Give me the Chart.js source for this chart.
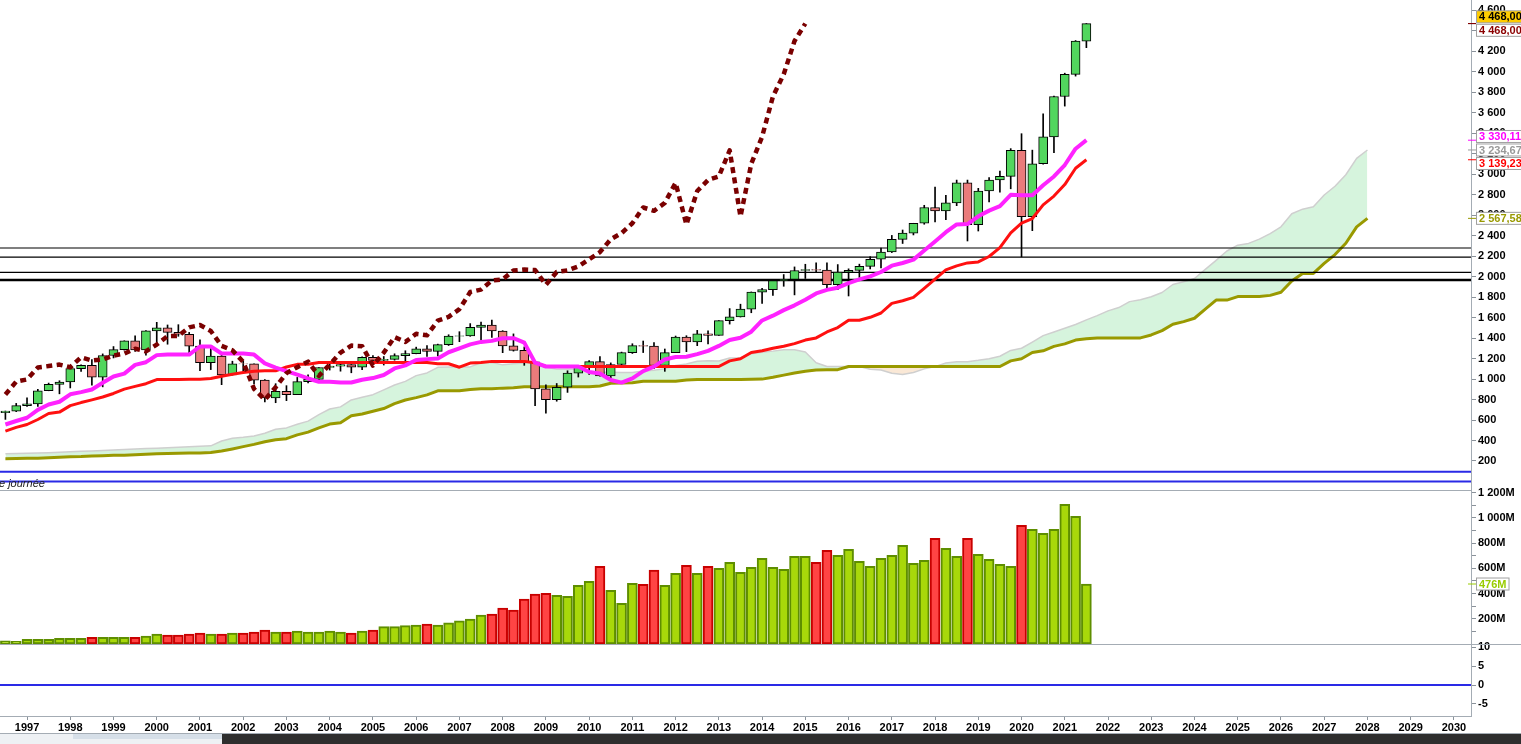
<!doctype html>
<html lang="fr">
<head>
<meta charset="utf-8">
<title>S&amp;P 500 trimestriel - Ichimoku</title>
<script src="https://cdn.jsdelivr.net/npm/chart.js@4.4.1/dist/chart.umd.min.js"></script>
<style>
  body { margin: 0; background: #fff; overflow: hidden; }
  #wrap { position: relative; width: 1521px; height: 744px; }
  canvas { position: absolute; left: 0; }
  .sep { position: absolute; left: 0; height: 1px; background: #a4acb4; }
  #note { position: absolute; left: -1px; top: 477px; font: italic 11px Arial, "Liberation Sans", sans-serif; color: #222; }
</style>
</head>
<body>
<div id="wrap">
  <canvas id="c1" width="1521" height="490" style="top:0"></canvas>
  <canvas id="c2" width="1521" height="162" style="top:482px"></canvas>
  <canvas id="c3" width="1521" height="97" style="top:636px"></canvas>
  <div class="sep" style="top:490px;width:1471px"></div>
  <div class="sep" style="top:644px;width:1521px"></div>
  <div class="sep" style="top:733px;width:1521px"></div>
  <div style="position:absolute;left:0;top:734px;width:222px;height:10px;background:#eef1f4"></div>
  <div style="position:absolute;left:73px;top:734px;width:149px;height:5px;background:#d6dfe8"></div>
  <div style="position:absolute;left:222px;top:734px;width:1299px;height:10px;background:#2e2e2e"></div>
  <div id="note">e journée</div>
</div>
<script>
// quarterly candles, 1996 Q3 .. 2021 Q3 (index 0 .. 100)
const opens = [
  670.6, 687.3, 740.7, 757.1, 885.1, 947.3, 970.4, 1101.8, 1133.8, 1017.0,
  1229.2, 1286.4, 1372.7, 1282.7, 1469.3, 1498.6, 1454.6, 1436.5, 1320.3, 1160.3,
  1224.4, 1040.9, 1148.1, 1147.4, 989.8, 815.3, 879.8, 848.2, 974.5, 996.0,
  1111.9, 1126.2, 1140.8, 1114.6, 1211.9, 1180.6, 1191.3, 1228.8, 1248.3, 1294.8,
  1270.2, 1335.9, 1418.3, 1420.9, 1503.4, 1526.8, 1468.4, 1322.7, 1280.0, 1166.4,
  903.3, 797.9, 919.3, 1057.1, 1115.1, 1169.4, 1030.7, 1141.2, 1257.6, 1325.8,
  1320.6, 1131.4, 1257.6, 1408.5, 1362.2, 1440.7, 1426.2, 1569.2, 1606.3, 1681.6,
  1848.4, 1872.3, 1960.2, 1972.3, 2058.9, 2067.9, 2063.1, 1920.0, 2043.9, 2059.7,
  2098.9, 2168.3, 2238.8, 2362.7, 2423.4, 2519.4, 2673.6, 2640.9, 2718.4, 2914.0,
  2506.9, 2834.4, 2941.8, 2976.7, 3230.8, 2584.6, 3100.3, 3363.0, 3756.1, 3972.9,
  4297.5
];
const highs = [
  687.5, 762.1, 817.0, 898.7, 960.3, 983.1, 1105.7, 1138.5, 1190.6, 1244.9,
  1316.6, 1372.9, 1420.3, 1473.0, 1553.1, 1527.2, 1530.1, 1454.8, 1383.4, 1316.3,
  1240.4, 1173.6, 1176.8, 1147.8, 994.5, 954.3, 935.1, 1015.3, 1040.0, 1112.6,
  1163.2, 1150.6, 1140.8, 1217.3, 1229.1, 1219.6, 1246.0, 1275.8, 1310.9, 1326.7,
  1340.3, 1431.8, 1461.6, 1540.6, 1555.9, 1576.1, 1471.8, 1440.2, 1313.2, 1167.0,
  943.9, 956.2, 1080.2, 1130.4, 1180.7, 1219.8, 1157.2, 1262.6, 1344.1, 1370.6,
  1356.5, 1292.7, 1419.2, 1422.4, 1474.5, 1470.9, 1570.3, 1687.2, 1729.9, 1849.4,
  1883.9, 1968.2, 2019.3, 2093.6, 2119.6, 2134.7, 2132.8, 2116.5, 2075.0, 2120.6,
  2193.8, 2277.5, 2401.0, 2453.8, 2519.4, 2695.0, 2872.9, 2791.5, 2940.9, 2941.0,
  2860.3, 2964.2, 3028.0, 3247.9, 3393.5, 3233.1, 3588.1, 3760.2, 3983.9, 4302.4,
  4468.0
];
const lows = [
  605.9, 681.6, 733.5, 733.5, 885.1, 855.3, 912.8, 1074.6, 939.9, 923.3,
  1205.5, 1281.4, 1268.4, 1233.7, 1325.1, 1339.4, 1416.8, 1254.1, 1081.2, 1091.9,
  944.8, 1037.9, 1074.4, 952.9, 775.7, 768.6, 788.9, 847.9, 960.8, 990.4,
  1087.2, 1076.3, 1060.7, 1090.2, 1163.7, 1136.2, 1183.6, 1168.2, 1245.7, 1219.3,
  1224.5, 1327.1, 1363.9, 1416.4, 1370.6, 1406.1, 1256.9, 1272.0, 1133.5, 741.0,
  666.8, 783.3, 869.3, 1019.0, 1044.5, 1028.3, 1010.9, 1131.9, 1249.1, 1258.1,
  1101.5, 1074.8, 1257.6, 1267.0, 1325.4, 1343.4, 1426.2, 1536.0, 1604.6, 1646.5,
  1737.9, 1814.4, 1904.8, 1820.7, 1980.9, 2048.4, 1867.0, 1871.9, 1810.1, 1991.7,
  2074.0, 2083.8, 2233.6, 2322.3, 2405.7, 2510.0, 2532.7, 2553.8, 2691.0, 2346.6,
  2444.0, 2728.8, 2822.1, 2855.9, 2191.9, 2447.5, 3095.0, 3209.5, 3662.7, 3955.5,
  4233.1
];
const closes = [
  687.3, 740.7, 757.1, 885.1, 947.3, 970.4, 1101.8, 1133.8, 1017.0, 1229.2,
  1286.4, 1372.7, 1282.7, 1469.3, 1498.6, 1454.6, 1436.5, 1320.3, 1160.3, 1224.4,
  1040.9, 1148.1, 1147.4, 989.8, 815.3, 879.8, 848.2, 974.5, 996.0, 1111.9,
  1126.2, 1140.8, 1114.6, 1211.9, 1180.6, 1191.3, 1228.8, 1248.3, 1294.8, 1270.2,
  1335.9, 1418.3, 1420.9, 1503.4, 1526.8, 1468.4, 1322.7, 1280.0, 1166.4, 903.3,
  797.9, 919.3, 1057.1, 1115.1, 1169.4, 1030.7, 1141.2, 1257.6, 1325.8, 1320.6,
  1131.4, 1257.6, 1408.5, 1362.2, 1440.7, 1426.2, 1569.2, 1606.3, 1681.6, 1848.4,
  1872.3, 1960.2, 1972.3, 2058.9, 2067.9, 2063.1, 1920.0, 2043.9, 2059.7, 2098.9,
  2168.3, 2238.8, 2362.7, 2423.4, 2519.4, 2673.6, 2640.9, 2718.4, 2914.0, 2506.9,
  2834.4, 2941.8, 2976.7, 3230.8, 2584.6, 3100.3, 3363.0, 3756.1, 3972.9, 4297.5,
  4468.0
];
// volume in millions
const volumes = [
  26, 21, 37, 37, 37, 45, 45, 45, 53, 53,
  53, 53, 53, 63, 79, 71, 71, 79, 87, 79,
  79, 87, 87, 95, 111, 95, 95, 103, 95, 95,
  103, 95, 87, 103, 111, 138, 138, 146, 151, 159,
  151, 167, 183, 198, 230, 238, 286, 270, 357, 397,
  402, 386, 378, 466, 497, 617, 426, 323, 482, 474,
  587, 466, 561, 624, 561, 617, 601, 648, 569, 609,
  680, 609, 593, 696, 696, 648, 744, 704, 751, 656,
  617, 680, 704, 783, 640, 664, 839, 759, 696, 839,
  712, 672, 632, 617, 942, 910, 878, 910, 1109, 1013,
  476
];
// Ichimoku lines
const tenkan = [
  556, 590, 622, 699, 751, 778, 851, 872, 898, 963,
  1025, 1053, 1138, 1164, 1233, 1238, 1238, 1238, 1317, 1317,
  1249, 1249, 1249, 1238, 1153, 1112, 1076, 1043, 1005, 973,
  973, 966, 966, 993, 1009, 1039, 1103, 1133, 1186, 1194,
  1201, 1261, 1299, 1338, 1362, 1372, 1398, 1398, 1355, 1159,
  1122, 1122, 1122, 1122, 1069, 1054, 990, 965, 1006, 1077,
  1120, 1191, 1215, 1217, 1243, 1275, 1323, 1381, 1402, 1462,
  1571, 1618, 1672, 1719, 1773, 1835, 1870, 1891, 1936, 1972,
  2002, 2044, 2106, 2132, 2165, 2253, 2342, 2432, 2508, 2512,
  2587, 2643, 2687, 2797, 2793, 2793, 2890, 2976, 3088, 3247,
  3330.11
];
const kijun = [
  491, 528, 556, 605, 663, 677, 740, 770, 796, 824,
  859, 901, 928, 954, 994, 994, 994, 997, 998, 1005,
  1027, 1047, 1063, 1075, 1080, 1080, 1117, 1143, 1143, 1161,
  1161, 1161, 1161, 1161, 1161, 1161, 1161, 1161, 1161, 1161,
  1149, 1149, 1115, 1155, 1162, 1172, 1172, 1172, 1172, 1159,
  1122, 1122, 1122, 1122, 1122, 1122, 1122, 1122, 1122, 1122,
  1122, 1122, 1122, 1122, 1122, 1122, 1122, 1177, 1198, 1258,
  1275, 1300, 1320, 1345, 1380, 1401, 1459, 1502, 1573, 1573,
  1602, 1644, 1738, 1764, 1797, 1885, 1974, 2065, 2104, 2133,
  2142, 2195, 2282, 2426, 2520, 2566, 2699, 2785, 2897, 3056,
  3139.23
];
// cloud edges, index 0 .. 126 (26 quarters ahead)
const spanA = [
  270, 273, 276, 278, 281, 285, 290, 294, 298, 303,
  308, 312, 317, 321, 325, 329, 333, 338, 343, 348,
  395, 421, 431, 444, 470, 509,
  523, 559, 589, 652, 707, 728, 796, 821, 847, 894,
  942, 977, 1033, 1059, 1114, 1116, 1116, 1118, 1158, 1161,
  1138, 1148, 1156, 1157, 1117, 1096, 1097, 1093, 1074, 1067,
  1067, 1064, 1064, 1077, 1085, 1100, 1132, 1147, 1174, 1178,
  1175, 1205, 1207, 1247, 1262, 1272, 1285, 1285, 1264, 1159,
  1122, 1122, 1122, 1122, 1095, 1088, 1056, 1043, 1064, 1099,
  1121, 1156, 1168, 1169, 1182, 1198, 1222, 1279, 1300, 1360,
  1423, 1459, 1496, 1532, 1577, 1618, 1665, 1697, 1755, 1773,
  1802, 1844, 1922, 1948, 1981, 2069, 2158, 2249, 2306, 2323,
  2365, 2419, 2485, 2612, 2657, 2680, 2795, 2881, 2993, 3152,
  3234.67
];
const spanB = [
  223, 224, 226, 228, 231, 236, 242, 244, 249, 252,
  255, 256, 262, 265, 270, 272, 276, 277, 279, 283,
  298, 318, 340, 362, 388, 408,
  418, 455, 482, 523, 560, 573, 642, 659, 685, 712,
  760, 795, 818, 845, 885, 885, 885, 898, 905, 905,
  911, 914, 924, 924, 924, 924, 924, 924, 924, 932,
  959, 962, 964, 977, 977, 978, 978, 991, 994, 995,
  994, 994, 994, 997, 999, 1017, 1038, 1059, 1075, 1087,
  1091, 1091, 1122, 1122, 1122, 1122, 1122, 1122, 1122, 1122,
  1122, 1122, 1122, 1122, 1122, 1122, 1122, 1177, 1198, 1258,
  1275, 1318, 1343, 1380, 1393, 1401, 1401, 1401, 1401, 1401,
  1430, 1472, 1534, 1560, 1593, 1681, 1770, 1770, 1804, 1804,
  1804, 1816, 1847, 1957, 2030, 2030, 2128, 2214, 2325, 2485,
  2567.58
];
const levels = [2278, 2190, 2041, 1966];
const blueLevels = [95, 0];
const oscLevels = [0];
const chikouShift = 26;
const yearLabels = ['1997','1998','1999','2000','2001','2002','2003','2004','2005','2006',
  '2007','2008','2009','2010','2011','2012','2013','2014','2015','2016','2017','2018',
  '2019','2020','2021','2022','2023','2024','2025','2026','2027','2028','2029','2030'];
const priceTicks = [200,400,600,800,1000,1200,1400,1600,1800,2000,2200,2400,2600,2800,
  3000,3200,3400,3600,3800,4000,4200,4400,4600];
const volumeTicks = [100,200,300,400,500,600,700,800,900,1000,1100,1200];
const oscTicks = [-5, 0, 5, 10];

const xMin = -0.5, xMax = 135.58;
Chart.defaults.font.family = 'Arial, "Liberation Sans", sans-serif';

function fmtInt(v) { return String(Math.round(v)).replace(/\B(?=(\d{3})+(?!\d))/g, ' '); }
function fmt2(v) { const p = v.toFixed(2).split('.'); return fmtInt(+p[0]) + ',' + p[1]; }
const pts = arr => arr.map((v, i) => ({ x: i, y: v }));
const hline = v => [{ x: xMin, y: v }, { x: xMax, y: v }];

function rightAxis(min, max, tickVals, label) {
  return {
    type: 'linear', position: 'right', min: min, max: max,
    afterBuildTicks: s => { s.ticks = tickVals.map(v => ({ value: v })); },
    afterFit: s => { s.width = 50; s.paddingTop = 0; s.paddingBottom = 0; },
    grid: { drawOnChartArea: false, tickLength: 5, color: '#8a929a' },
    border: { display: true, color: '#a4acb4' },
    ticks: { autoSkip: false, padding: 2, color: '#000', font: { weight: 'bold', size: 11 }, callback: label }
  };
}
const hiddenX = { type: 'linear', display: false, min: xMin, max: xMax, offset: false };

function makeBoxes(items) {
  return {
    id: 'boxes',
    afterDraw(chart) {
      const ys = chart.scales.y, c = chart.ctx, x0 = chart.chartArea.right;
      const list = items.map(it => Object.assign({}, it, { ty: ys.getPixelForValue(it.value), y: ys.getPixelForValue(it.value) }));
      list.sort((a, b) => a.y - b.y);
      const h = 13.5;
      for (let k = 0; k < 40; k++) {
        for (let i = 1; i < list.length; i++) {
          const d = list[i].y - list[i - 1].y;
          if (d < h) { const m = (h - d) / 2; list[i].y += m; list[i - 1].y -= m; }
        }
      }
      c.save();
      c.font = 'bold 11px Arial, "Liberation Sans", sans-serif';
      c.textBaseline = 'middle';
      list.forEach(it => {
        c.strokeStyle = it.color; c.lineWidth = 1;
        c.beginPath(); c.moveTo(x0 - 3, it.ty); c.lineTo(x0 + 5, it.ty); c.stroke();
        const w = c.measureText(it.text).width + 5;
        c.fillStyle = it.bg; c.fillRect(x0 + 5.5, it.y - 6, w, 12);
        c.strokeStyle = '#a0a0a0'; c.strokeRect(x0 + 5.5, it.y - 6, w, 12);
        c.fillStyle = it.color; c.fillText(it.text, x0 + 8, it.y + 0.5);
      });
      c.restore();
    }
  };
}

const up = opens.map((o, i) => closes[i] >= o);
const lineDs = (data, color, width, order, extra) => Object.assign({
  type: 'line', data: data, borderColor: color, borderWidth: width, pointRadius: 0,
  tension: 0, fill: false, order: order, borderJoinStyle: 'round'
}, extra || {});

// ---------- main price panel ----------
const mainSets = [
  lineDs(pts(spanA), '#cfcfcf', 1.5, 20, { fill: { target: '+1', above: 'rgb(214,244,221)', below: 'rgb(250,232,214)' } }),
  lineDs(pts(spanB), '#999900', 3, 19)
];
levels.forEach((v, i) => mainSets.push(lineDs(hline(v), '#000', i === levels.length - 1 ? 2.4 : 1.2, 15)));
blueLevels.forEach(v => mainSets.push(lineDs(hline(v), '#2a2ae6', 2, 15)));
mainSets.push({
  type: 'bar', data: lows.map((l, i) => ({ x: i, y: [l, highs[i]] })), backgroundColor: '#000',
  borderWidth: 0, barThickness: 1, grouped: false, order: 12
});
mainSets.push({
  type: 'bar', data: opens.map((o, i) => ({ x: i, y: [o, closes[i]] })),
  backgroundColor: up.map(u => u ? '#52d65e' : '#ea7b7b'), borderColor: '#000', borderWidth: 1,
  borderSkipped: false, barThickness: 9, grouped: false, order: 11
});
mainSets.push(lineDs(pts(kijun), '#ff1010', 3, 5));
mainSets.push(lineDs(pts(tenkan), '#ff22ff', 4, 4));
mainSets.push(lineDs(closes.slice(chikouShift).map((c, k) => ({ x: k, y: c })), '#7a0000', 4.5, 3,
  { borderDash: [6, 4.5], borderCapStyle: 'butt' }));

const last = closes.length - 1;
new Chart(document.getElementById('c1'), {
  type: 'bar',
  data: { datasets: mainSets },
  options: {
    responsive: false, animation: false, events: [],
    layout: { padding: 0 },
    plugins: { legend: { display: false }, tooltip: { enabled: false } },
    scales: { x: hiddenX, y: rightAxis(-83, 4698, priceTicks, v => fmtInt(v)) }
  },
  plugins: [makeBoxes([
    { value: closes[last], text: fmt2(closes[last]), color: '#000', bg: '#ffcc00' },
    { value: closes[last], text: fmt2(closes[last]), color: '#8b0000', bg: '#fff' },
    { value: tenkan[last], text: fmt2(tenkan[last]), color: '#ff00ff', bg: '#fff' },
    { value: spanA[spanA.length - 1], text: fmt2(spanA[spanA.length - 1]), color: '#999', bg: '#fff' },
    { value: kijun[last], text: fmt2(kijun[last]), color: '#ff0000', bg: '#fff' },
    { value: spanB[spanB.length - 1], text: fmt2(spanB[spanB.length - 1]), color: '#999900', bg: '#fff' }
  ])]
});

// ---------- volume panel ----------
new Chart(document.getElementById('c2'), {
  type: 'bar',
  data: { datasets: [{
    data: pts(volumes),
    backgroundColor: up.map(u => u ? '#a8d80a' : '#ff4444'),
    borderColor: up.map(u => u ? '#5e8e00' : '#c80000'),
    borderWidth: 2, borderSkipped: false, barThickness: 10, grouped: false
  }] },
  options: {
    responsive: false, animation: false, events: [],
    layout: { padding: { top: 8 } },
    plugins: { legend: { display: false }, tooltip: { enabled: false } },
    scales: { x: hiddenX, y: rightAxis(0, 1222, volumeTicks, v => (v % 200 === 0 ? fmtInt(v) + 'M' : '')) }
  },
  plugins: [makeBoxes([{ value: volumes[last], text: volumes[last] + 'M', color: '#99cc00', bg: '#fff' }])]
});

// ---------- lower oscillator panel + time axis ----------
new Chart(document.getElementById('c3'), {
  type: 'line',
  data: { datasets: oscLevels.map(v => lineDs(hline(v), '#2a2ae6', 2, 1)) },
  options: {
    responsive: false, animation: false, events: [],
    layout: { padding: { top: 8 } },
    plugins: { legend: { display: false }, tooltip: { enabled: false } },
    scales: {
      x: {
        type: 'linear', min: xMin, max: xMax, offset: false,
        afterBuildTicks: s => { s.ticks = yearLabels.map(y => ({ value: (Number(y) - 1996) * 4 - 2 })); },
        afterFit: s => { s.height = 17; s.paddingLeft = 0; s.paddingRight = 0; },
        grid: { drawOnChartArea: false, tickLength: 4, color: '#8a929a' },
        border: { display: true, color: '#a4acb4' },
        ticks: { autoSkip: false, maxRotation: 0, padding: 1, color: '#000',
          font: { weight: 'bold', size: 11 }, callback: (v, i) => yearLabels[i] }
      },
      y: rightAxis(-8.2, 10.9, oscTicks, v => String(v))
    }
  }
});
</script>
</body>
</html>
